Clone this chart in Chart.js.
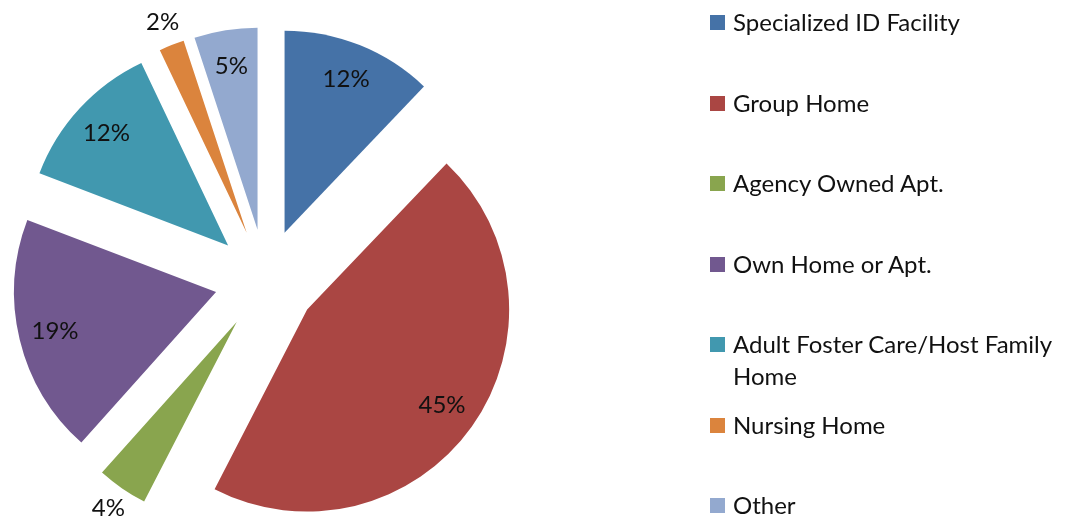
<!DOCTYPE html>
<html>
<head>
<meta charset="utf-8">
<script src="https://cdn.jsdelivr.net/npm/chart.js@4/dist/chart.umd.min.js"></script>
<style>
  html, body { margin: 0; padding: 0; background: #fff; overflow: hidden; }
  #wrap { position: relative; width: 1076px; height: 523px; }
  #c { position: absolute; left: 0; top: 0; }
  #legend { position: absolute; left: 0; top: 0; width: 1076px; height: 523px; pointer-events: none;
            font-family: Lato, "Open Sans", sans-serif; font-size: 24px; color: #111; }
  .item { position: absolute; left: 710px; width: 360px; }
  .sw { position: absolute; left: 0; top: 9px; width: 15px; height: 15px; }
  .tx { position: absolute; left: 23px; top: 0; width: 330px; line-height: 32px; white-space: normal; }
</style>
</head>
<body>
<div id="wrap">
  <canvas id="c" width="1076" height="523"></canvas>
  <div id="legend"></div>
</div>
<script>
// ---- data ----
const categories = [
  "Specialized ID Facility",
  "Group Home",
  "Agency Owned Apt.",
  "Own Home or Apt.",
  "Adult Foster Care/Host Family Home",
  "Nursing Home",
  "Other"
];
const percentValues = [12, 45, 4, 19, 12, 2, 5];
const sliceColors = ["#4572A7", "#AA4643", "#89A54E", "#71588F", "#4198AF", "#DB843D", "#93A9CF"];

// ---- style ----
const PIE_RADIUS = 202;
const EXPLODE = 51;
const LABEL_IN = 0.82;
const LABEL_OUT = 1.12;
const SMALL_SLICE = 5;

const explodePlugin = {
  id: 'explode',
  beforeDatasetDraw(chart, args) {
    const ctx = chart.ctx;
    args.meta.data.forEach(arc => {
      const mid = (arc.startAngle + arc.endAngle) / 2;
      ctx.save();
      ctx.translate(Math.cos(mid) * EXPLODE, Math.sin(mid) * EXPLODE);
      arc.draw(ctx);
      ctx.restore();
    });
    return false;
  }
};

const labelPlugin = {
  id: 'pctLabels',
  afterDatasetsDraw(chart) {
    const ctx = chart.ctx;
    const meta = chart.getDatasetMeta(0);
    ctx.save();
    ctx.font = '24px Lato, "Open Sans", sans-serif';
    ctx.fillStyle = '#111';
    ctx.textAlign = 'center';
    ctx.textBaseline = 'middle';
    meta.data.forEach((arc, i) => {
      const v = percentValues[i];
      const mid = (arc.startAngle + arc.endAngle) / 2;
      const k = v < SMALL_SLICE ? LABEL_OUT : LABEL_IN;
      const d = EXPLODE + k * arc.outerRadius;
      ctx.fillText(v + '%', arc.x + Math.cos(mid) * d, arc.y + Math.sin(mid) * d);
    });
    ctx.restore();
  }
};

new Chart(document.getElementById('c'), {
  type: 'pie',
  data: {
    labels: categories,
    datasets: [{
      data: percentValues,
      backgroundColor: sliceColors,
      borderWidth: 0,
      radius: PIE_RADIUS,
      clip: false
    }]
  },
  options: {
    responsive: false,
    animation: false,
    radius: PIE_RADIUS,
    layout: { padding: { left: 0, right: 544.8, top: 37, bottom: 0 } },
    plugins: { legend: { display: false }, tooltip: { enabled: false } },
    events: []
  },
  plugins: [explodePlugin, labelPlugin]
});

// HTML legend built from the same arrays
const legend = document.getElementById('legend');
categories.forEach((name, i) => {
  const item = document.createElement('div');
  item.className = 'item';
  item.style.top = (22 + i * 80.5 - 16) + 'px';
  const sw = document.createElement('div');
  sw.className = 'sw';
  sw.style.background = sliceColors[i];
  const tx = document.createElement('div');
  tx.className = 'tx';
  tx.textContent = name;
  item.appendChild(sw);
  item.appendChild(tx);
  legend.appendChild(item);
});
</script>
</body>
</html>
